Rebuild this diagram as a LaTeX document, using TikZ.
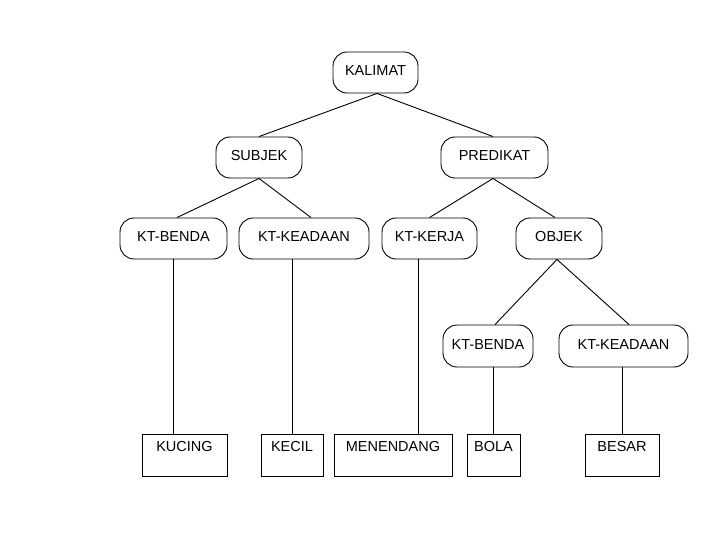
\documentclass[tikz,border=0pt]{standalone}
\usepackage{fontspec}
\setmainfont{Liberation Sans}
\begin{document}
\begin{tikzpicture}[x=1pt,y=-1pt,
  line width=0.9pt,
  every label/.style={font=\fontsize{14.5}{16}\selectfont, inner sep=0pt},
  pill/.style={draw, rounded corners=14pt, minimum height=41pt, inner sep=0pt},
  leaf/.style={draw, minimum height=42pt, inner sep=0pt},
  conn/.style={line width=0.9pt}]
\fill[white] (0,0) rectangle (720,540);
\useasboundingbox (0,0) rectangle (720,540);
% rounded nodes
\node[pill, minimum width=85pt, label={[yshift=2pt]center:KALIMAT}] (kal) at (375.5,72.5) {};
\node[pill, minimum width=86pt, label={[yshift=1.5pt]center:SUBJEK}] (subj) at (259,157.5) {};
\node[pill, minimum width=107pt, label={[yshift=1.5pt]center:PREDIKAT}] (pred) at (494.5,157.5) {};
\node[pill, minimum width=107pt, label={[yshift=1.5pt]center:KT-BENDA}] (kb1) at (173.5,238.5) {};
\node[pill, minimum width=130pt, label={[yshift=1.5pt]center:KT-KEADAAN}] (kk1) at (304,238.5) {};
\node[pill, minimum width=95pt, label={[yshift=1.5pt]center:KT-KERJA}] (kkj) at (429.5,238.5) {};
\node[pill, minimum width=86pt, label={[yshift=1.5pt]center:OBJEK}] (obj) at (559,238.5) {};
\node[pill, minimum width=90pt, minimum height=42pt, label={[yshift=1.5pt]center:KT-BENDA}] (kb2) at (488,346) {};
\node[pill, minimum width=129pt, minimum height=42pt, label={[yshift=1.5pt]center:KT-KEADAAN}] (kk2) at (623.5,346) {};
% leaf boxes
\node[leaf, minimum width=85pt, label={[yshift=8pt]center:KUCING}] (kuc) at (184.5,455) {};
\node[leaf, minimum width=62pt, label={[yshift=8pt]center:KECIL}] (kec) at (292,455) {};
\node[leaf, minimum width=118pt, label={[yshift=8pt]center:MENENDANG}] (men) at (393,455) {};
\node[leaf, minimum width=53pt, label={[yshift=8pt]center:BOLA}] (bol) at (493.5,455) {};
\node[leaf, minimum width=74pt, label={[yshift=8pt]center:BESAR}] (bes) at (622,455) {};
% connectors
\draw[conn] ([xshift=1.5pt]kal.south) -- (subj.north);
\draw[conn] ([xshift=1.5pt]kal.south) -- ([xshift=-1.5pt]pred.north);
\draw[conn] (subj.south) -- ([xshift=3.5pt]kb1.north);
\draw[conn] (subj.south) -- ([xshift=7pt]kk1.north);
\draw[conn] ([xshift=-1.5pt]pred.south) -- (kkj.north);
\draw[conn] ([xshift=-1.5pt]pred.south) -- ([xshift=-4pt]obj.north);
\draw[conn] ([xshift=-2pt]obj.south) -- ([xshift=7pt]kb2.north);
\draw[conn] ([xshift=-2pt]obj.south) -- ([xshift=5.5pt]kk2.north);
\draw[conn] (kb1.south) -- (kb1.south |- kuc.north);
\draw[conn] (kec.north |- kk1.south) -- (kec.north);
\draw[conn] ([xshift=-11.5pt]kkj.south) -- ([xshift=-11.5pt]kkj.south |- men.north);
\draw[conn] (bol.north |- kb2.south) -- (bol.north);
\draw[conn] (bes.north |- kk2.south) -- (bes.north);
\end{tikzpicture}
\end{document}
